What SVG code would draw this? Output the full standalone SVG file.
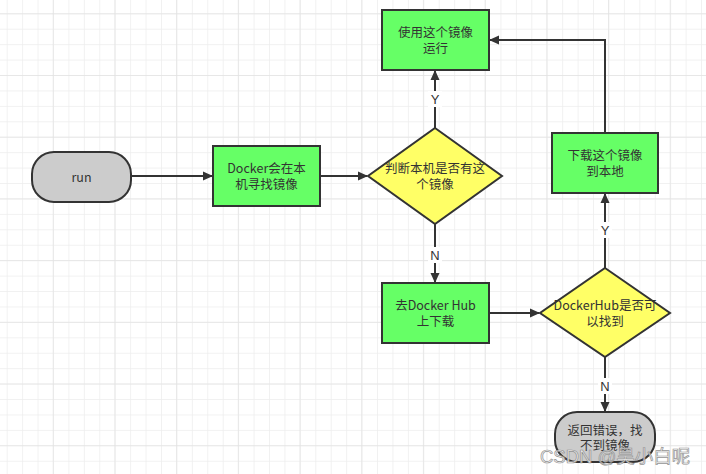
<svg xmlns="http://www.w3.org/2000/svg" width="706" height="474" viewBox="0 0 706 474">
<style>
.nd{stroke:#333;stroke-width:2}
.g{fill:#66ff66}
.y{fill:#ffff66}
.t{fill:#cccccc}
.tx{font-family:"Noto Sans CJK SC","Liberation Sans",sans-serif;font-size:12.5px;fill:#333;text-anchor:middle}
.c{fill:none;stroke:#333;stroke-width:2}
.lb{font-family:"Liberation Sans",sans-serif;font-size:13px;fill:#333;text-anchor:middle}
</style>
<defs>
<pattern id="minor" patternUnits="userSpaceOnUse" x="6.7" y="13.3" width="15.43" height="15.43">
<path d="M0 0H15.43M0 0V15.43" fill="none" stroke="#ededed" stroke-width="1.5"/>
</pattern>
<pattern id="major" patternUnits="userSpaceOnUse" x="52.7" y="13.3" width="61.7" height="61.7">
<path d="M0 0H61.7M0 0V61.7" fill="none" stroke="#e3e3e3" stroke-width="1.5"/>
</pattern>
<marker id="ar" markerWidth="10" markerHeight="10" refX="9" refY="5" orient="auto" markerUnits="userSpaceOnUse">
<path d="M0 0.5L10 5L0 9.5Z" fill="#333"/>
</marker>
</defs>
<rect width="706" height="474" fill="#fff"/>
<rect width="706" height="474" fill="url(#minor)"/>
<rect width="706" height="474" fill="url(#major)"/>
<g id="connectors">
<path class="c" d="M131 176H212" marker-end="url(#ar)"/>
<path class="c" d="M320 176H367" marker-end="url(#ar)"/>
<path class="c" d="M435 128V71" marker-end="url(#ar)"/>
<path class="c" d="M435 224V282" marker-end="url(#ar)"/>
<path class="c" d="M489 313H539" marker-end="url(#ar)"/>
<path class="c" d="M605 268V194" marker-end="url(#ar)"/>
<path class="c" d="M605 133V40H490" marker-end="url(#ar)"/>
<path class="c" d="M605 357V411" marker-end="url(#ar)"/>
<rect x="428" y="91" width="14" height="16" fill="#fff"/>
<text class="lb" x="435" y="104">Y</text>
<rect x="428" y="247" width="14" height="16" fill="#fff"/>
<text class="lb" x="435" y="260">N</text>
<rect x="598" y="222" width="14" height="16" fill="#fff"/>
<text class="lb" x="605" y="235">Y</text>
<rect x="598" y="378" width="14" height="16" fill="#fff"/>
<text class="lb" x="605" y="391">N</text>
</g>
<g id="run">
<rect class="nd t" x="32" y="152" width="99" height="50" rx="22" ry="22"/>
<text class="tx" x="81.5" y="181.5">run</text>
</g>
<g id="docker-local">
<rect class="nd g" x="213" y="146" width="107" height="60"/>
<text class="tx" x="266.5" y="172.5">Docker会在本</text>
<text class="tx" x="266.5" y="188.5">机寻找镜像</text>
</g>
<g id="decision-local">
<path class="nd y" d="M435 128L502 176L435 224L368 176Z"/>
<text class="tx" x="435" y="172.5">判断本机是否有这</text>
<text class="tx" x="435" y="188.5">个镜像</text>
</g>
<g id="run-image">
<rect class="nd g" x="382" y="10" width="107" height="60"/>
<text class="tx" x="435.5" y="36.5">使用这个镜像</text>
<text class="tx" x="435.5" y="52.5">运行</text>
</g>
<g id="hub-download">
<rect class="nd g" x="382" y="283" width="107" height="60"/>
<text class="tx" x="435.5" y="309.5">去Docker Hub</text>
<text class="tx" x="435.5" y="325.5">上下载</text>
</g>
<g id="decision-hub">
<path class="nd y" d="M605 268L670 313L605 357L540 313Z"/>
<text class="tx" x="605" y="309.5">DockerHub是否可</text>
<text class="tx" x="605" y="325.5">以找到</text>
</g>
<g id="download-local">
<rect class="nd g" x="552" y="133" width="106" height="60"/>
<text class="tx" x="605" y="159.5">下载这个镜像</text>
<text class="tx" x="605" y="175.5">到本地</text>
</g>
<g id="error">
<rect class="nd t" x="555" y="412" width="100" height="50" rx="22" ry="22"/>
<text class="tx" x="605" y="434.5">返回错误，找</text>
<text class="tx" x="605" y="449.5">不到镜像</text>
</g>
<text x="540" y="463" font-family="'Liberation Sans','Noto Sans CJK SC',sans-serif" font-size="18.5" fill="#f4f4f4" stroke="#8a8a8a" stroke-width="0.7" opacity="0.9">CSDN @昊小白呢</text>
</svg>
